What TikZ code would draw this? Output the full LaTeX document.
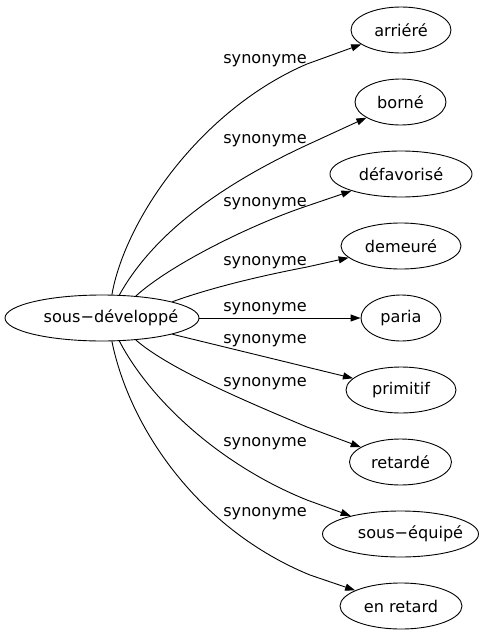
\documentclass[tikz,border=0pt]{standalone}
\usepackage{fontspec}
\setmainfont{DejaVu Sans}
\usetikzlibrary{arrows.meta,shapes.geometric}
\newcommand{\shifted}[2]{\hspace*{#1}\makebox[0pt]{#2}}
\begin{document}
\begin{tikzpicture}[x=1pt,y=-1pt,
  every node/.style={font=\fontsize{16.1}{19}\selectfont},
  term/.style={draw, ellipse, inner sep=0pt, minimum height=46pt, line width=0.9pt},
  rel/.style={draw, line width=0.9pt, -{Triangle[length=10pt,width=7pt]}},
  lbl/.style={anchor=base, inner sep=0pt}]
\useasboundingbox (0,0) rectangle (485,635);

\node[term, minimum width=194pt] (src) at (102,318) {\shifted{18pt}{sous−développé}};
\node[term, minimum width=100pt] (n1) at (401,30)  {arriéré};
\node[term, minimum width=91pt]  (n2) at (400.5,102) {borné};
\node[term, minimum width=142pt] (n3) at (401,174) {défavorisé};
\node[term, minimum width=120pt] (n4) at (401,246) {demeuré};
\node[term, minimum width=80pt]  (n5) at (401,318) {paria};
\node[term, minimum width=110pt] (n6) at (401,390) {primitif};
\node[term, minimum width=102pt] (n7) at (400.5,462) {retardé};
\node[term, minimum width=156pt] (n8) at (400.5,534) {\shifted{20pt}{sous−équipé}};
\node[term, minimum width=122pt] (n9) at (401,606) {en retard};

\draw[rel] (src.67) .. controls (125,220) and (200,110) .. (307,64) -- (n1);
\draw[rel] (src.53) .. controls (150,240) and (210,190) .. (307,145) -- (n2);
\draw[rel] (src.33) .. controls (170,265) and (250,225) .. (307,206) -- (n3);
\draw[rel] (src.13) .. controls (210,288) and (260,276) .. (307,267) -- (n4);
\draw[rel] (src) -- (n5);
\draw[rel] (src.-13) -- (n6);
\draw[rel] (src.-33) .. controls (170,370) and (255,405) .. (307,427) -- (n7);
\draw[rel] (src.-53) .. controls (150,400) and (220,465) .. (307,500) -- (n8);
\draw[rel] (src.-67) .. controls (130,430) and (200,530) .. (310,575) -- (n9);

\node[lbl] (l1) at (265,63.3)  {synonyme};
\node[lbl] (l2) at (265,143)   {synonyme};
\node[lbl] (l3) at (265,206.7) {synonyme};
\node[lbl] (l4) at (265,265)   {synonyme};
\node[lbl] (l5) at (265,311.7) {synonyme};
\node[lbl] (l6) at (265,343.3) {synonyme};
\node[lbl] (l7) at (265,386.7) {synonyme};
\node[lbl] (l8) at (265,446.7) {synonyme};
\node[lbl] (l9) at (265,516.7) {synonyme};
\end{tikzpicture}
\end{document}
